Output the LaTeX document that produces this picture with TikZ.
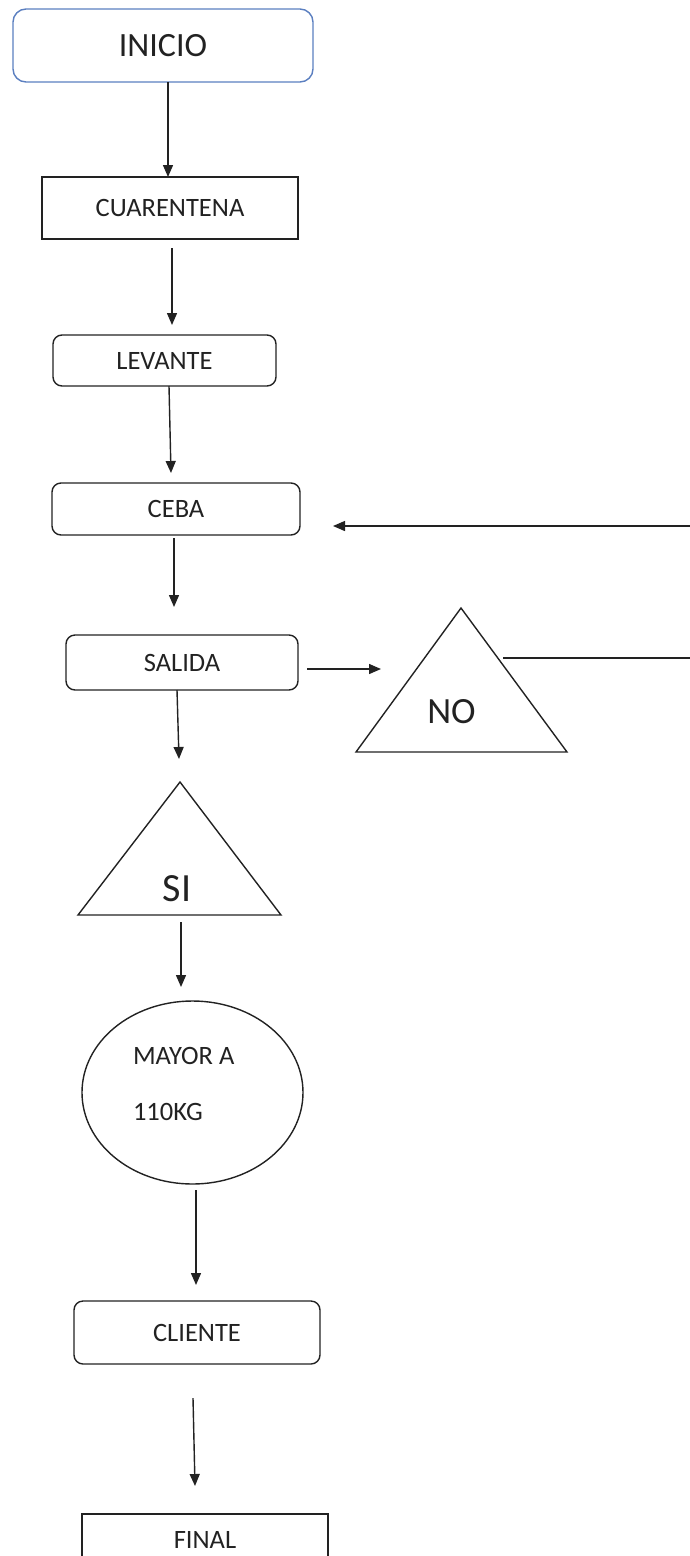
\documentclass[tikz,border=0pt]{standalone}
\usepackage{fontspec}
\setmainfont{Carlito}
\usetikzlibrary{arrows.meta,shapes.geometric}
\definecolor{inicioblue}{HTML}{5B7FC0}
\definecolor{ink}{HTML}{222222}
\begin{document}
\begin{tikzpicture}[x=1pt,y=-1pt,
  every node/.style={inner sep=0pt, outer sep=0pt, text=ink},
  lbl/.style={font=\fontsize{26.5}{31}\selectfont},
  sqbox/.style={draw=ink, line width=1.4pt, lbl},
  rbox/.style={sqbox, rounded corners=9pt},
  arr/.style={draw=ink, line width=1.4pt, -{Triangle[length=12pt,width=10pt]}},
  ln/.style={draw=ink, line width=1.4pt},
]
\useasboundingbox (0,0) rectangle (690,1556);
\clip (0,0) rectangle (690,1556);

% nodes
\node[draw=inicioblue, line width=1.4pt, rounded corners=13pt, minimum width=300pt, minimum height=73pt, font=\fontsize{34}{40}\selectfont] (ini) at (163,45.5) {INICIO};
\node[sqbox, minimum width=256pt, minimum height=62pt] (cua) at (170,208) {CUARENTENA};
\node[rbox, minimum width=223pt, minimum height=51pt] (lev) at (164.5,360.5) {LEVANTE};
\node[rbox, minimum width=248pt, minimum height=52pt] (ceb) at (176,509) {CEBA};
\node[rbox, minimum width=232pt, minimum height=55pt] (sal) at (182,662.5) {SALIDA};

% NO triangle
\coordinate (noA) at (461,608);
\coordinate (noR) at (567,752);
\coordinate (noL) at (356,752);
\draw[ln, line join=miter] (noA) -- (noR) -- (noL) -- cycle;
\node[font=\fontsize{37}{44}\selectfont] (no) at (451.5,712) {NO};
\coordinate (noin) at (381,669);
\coordinate (noout) at (503,658);
\coordinate (edgeB) at (690,658);
\coordinate (edgeT) at (690,526);

% SI triangle
\coordinate (siA) at (180,782);
\coordinate (siR) at (281,915);
\coordinate (siL) at (78,915);
\draw[ln, line join=miter] (siA) -- (siR) -- (siL) -- cycle;
\node[font=\fontsize{40}{48}\selectfont] (si) at (177,889) {SI};
\coordinate (siout) at (181,922);

% ellipse
\node[draw=ink, line width=1.4pt, ellipse, minimum width=221pt, minimum height=183pt] (ell) at (192.5,1092.5) {};
\node[lbl, anchor=base west] (t1) at (133,1064) {MAYOR A};
\node[lbl, anchor=base west] (t2) at (133,1120) {110KG};

\node[rbox, minimum width=246pt, minimum height=63pt] (cli) at (197,1332.5) {CLIENTE};
\node[sqbox, minimum width=246pt, minimum height=52pt] (fin) at (205,1540) {FINAL};

% connectors
\draw[arr] ([xshift=5pt]ini.south) -- ([xshift=-2pt]cua.north);
\draw[arr] ([xshift=2pt,yshift=-9pt]cua.south) -- ([xshift=7.5pt,yshift=10pt]lev.north);
\draw[arr] ([xshift=4.5pt]lev.south) -- ([xshift=-5pt,yshift=10pt]ceb.north);
\draw[arr] ([xshift=-2pt,yshift=-3pt]ceb.south) -- ([xshift=-8pt,yshift=28pt]sal.north);
\draw[arr] ([xshift=-5pt]sal.south) -- ([xshift=-1pt,yshift=23pt]siA);
\draw[arr] ([xshift=9pt,yshift=-6.5pt]sal.east) -- (noin);
\draw[ln] (noout) -- (edgeB);
\draw[arr] (edgeT) -- ([xshift=33pt,yshift=-17pt]ceb.east);
\draw[arr] (siout) -- ([xshift=-11.5pt,yshift=14pt]ell.north);
\draw[arr] ([xshift=3.5pt,yshift=-6pt]ell.south) -- ([xshift=-1pt,yshift=16pt]cli.north);
\draw[arr] ([xshift=-4pt,yshift=-34pt]cli.south) -- ([xshift=-10pt,yshift=28pt]fin.north);
\end{tikzpicture}
\end{document}
